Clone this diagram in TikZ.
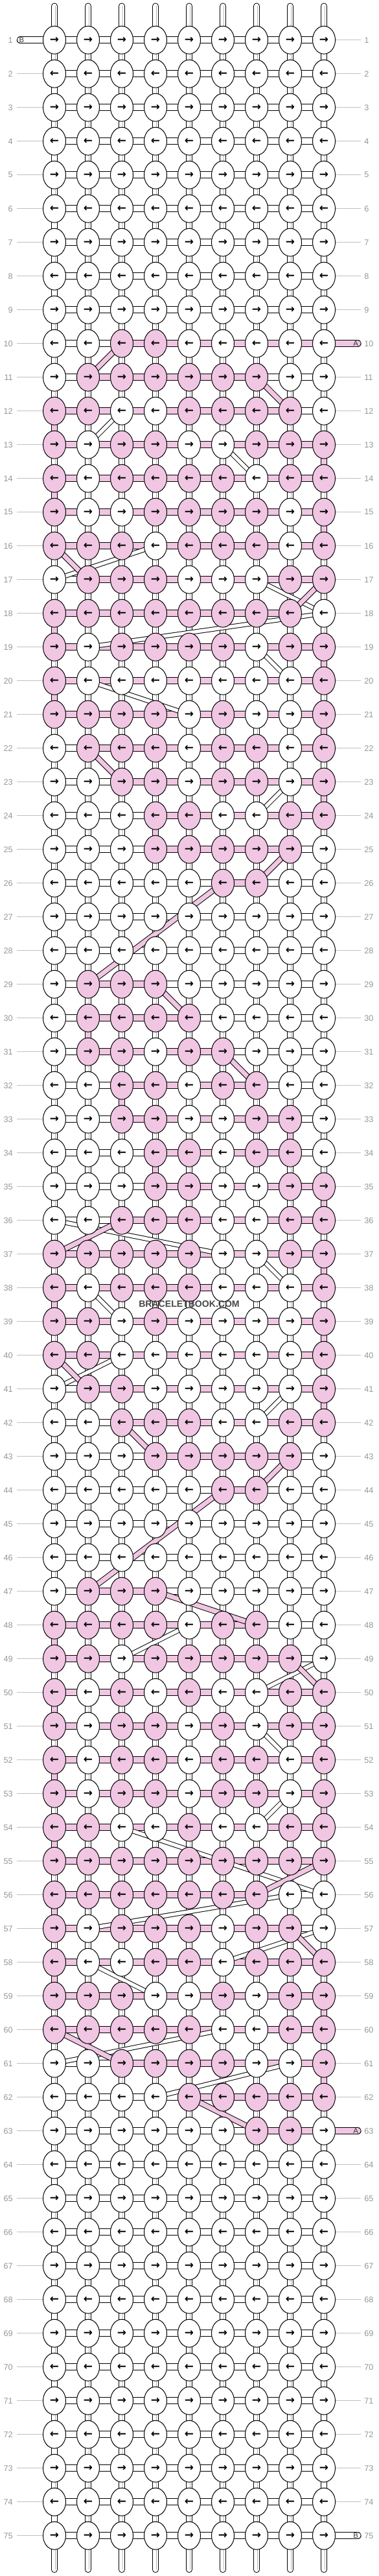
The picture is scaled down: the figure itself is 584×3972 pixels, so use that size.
\documentclass[tikz,border=0pt]{standalone}
\usepackage{fontspec}
\setmainfont{Liberation Sans}
\newfontfamily\arrowfont{DejaVu Sans}
\usetikzlibrary{shapes.geometric}
\pgfdeclarelayer{bg}
\pgfsetlayers{bg,main}
\definecolor{a}{RGB}{240,198,226}
\colorlet{b}{white}
\definecolor{rulegray}{RGB}{192,192,192}
\definecolor{numgray}{RGB}{150,150,150}
\newcommand{\rowarrow}[1]{\ifodd#1 →\else ←\fi}
\tikzset{
  knot/.style={ellipse, draw, fill=b, line width=0.25mm, inner sep=0pt,
    minimum width=8.75mm, minimum height=10.75mm,
    font=\arrowfont\bfseries\fontsize{12}{12}\selectfont},
  weft/.style={draw=black, line width=0.25mm, double=#1, double distance=2.35mm},
  warp/.style={draw=black, line width=0.25mm, double=#1, double distance=2mm},
  warplines/.style={draw=black!28, line width=0.1mm, double=white, double distance=0.55mm},
  swapb/.style={draw=black, line width=0.25mm, double=b, double distance=1.35mm},
  swapa/.style={draw=black, line width=0.25mm, double=a, double distance=1.75mm},
  rownum/.style={text=numgray, inner sep=0.75mm, font=\fontsize{9}{9}\selectfont},
  guide/.style={draw=rulegray, line width=0.25mm},
  endletter/.style={inner sep=0pt, text=black!80, font=\fontsize{8}{8}\selectfont}
}
\begin{document}
\begin{tikzpicture}[x=0.25mm,y=-0.25mm]
  \useasboundingbox (0,0) rectangle (584,3972);

  % plain rows
  \foreach \r in {1,...,9}{
    \foreach \c in {1,...,9}
      \node[knot] (k-\r-\c) at ({84+52*(\c-1)},{61.7+52*(\r-1)}) {\rowarrow{\r}};
    \begin{pgfonlayer}{bg}
      \foreach \c [count=\d from 2] in {1,...,8}
        \draw[weft=b] (k-\r-\c.center) -- (k-\r-\d.center);
    \end{pgfonlayer}
  }
  \foreach \r in {64,...,75}{
    \foreach \c in {1,...,9}
      \node[knot] (k-\r-\c) at ({84+52*(\c-1)},{61.7+52*(\r-1)}) {\rowarrow{\r}};
    \begin{pgfonlayer}{bg}
      \foreach \c [count=\d from 2] in {1,...,8}
        \draw[weft=b] (k-\r-\c.center) -- (k-\r-\d.center);
    \end{pgfonlayer}
  }

  % pattern rows: knot colours / links between them (n = no link)
  \foreach \r/\kn/\hz in {
    10/{b,b,a,a,b,b,b,b,b}/{b,b,a,a,a,a,a,a},
    11/{b,a,a,a,a,a,a,b,b}/{b,a,a,a,a,a,b,b},
    12/{a,a,b,b,a,a,a,a,b}/{a,a,a,a,a,a,a,b},
    13/{a,b,a,a,b,b,a,a,a}/{a,a,a,a,a,a,a,a},
    14/{a,b,a,a,a,a,b,a,a}/{a,a,a,a,a,a,a,a},
    15/{a,b,b,a,a,a,a,b,a}/{a,a,a,a,a,a,a,a},
    16/{a,a,a,b,a,a,a,b,a}/{a,a,a,a,a,a,a,a},
    17/{b,a,a,a,b,b,b,a,a}/{b,a,a,a,a,a,a,a},
    18/{a,a,a,a,a,a,a,a,b}/{a,a,a,a,a,a,a,n},
    19/{a,b,a,a,a,a,b,a,a}/{a,a,a,a,a,a,a,a},
    20/{a,b,b,b,b,b,b,b,a}/{a,a,a,a,a,a,a,a},
    21/{a,a,a,a,b,a,b,b,a}/{a,a,a,a,a,a,a,a},
    22/{b,a,a,a,b,a,a,b,a}/{b,a,a,a,a,a,a,a},
    23/{b,b,a,a,b,a,a,b,a}/{b,b,a,a,a,a,a,a},
    24/{b,b,b,a,a,b,b,a,a}/{b,b,b,a,a,a,a,a},
    25/{b,b,b,a,a,a,a,a,b}/{b,b,b,a,a,a,a,b},
    26/{b,b,b,b,b,a,a,b,b}/{b,b,b,b,b,a,b,b},
    27/{b,b,b,b,b,b,b,b,b}/{b,b,b,b,b,b,b,b},
    28/{b,b,b,b,b,b,b,b,b}/{b,b,b,b,b,b,b,b},
    29/{b,a,a,a,b,b,b,b,b}/{b,a,a,b,b,b,b,b},
    30/{b,a,a,a,a,b,b,b,b}/{b,a,a,a,b,b,b,b},
    31/{b,a,a,b,a,a,b,b,b}/{b,a,a,a,a,b,b,b},
    32/{b,b,a,a,b,a,a,b,b}/{b,b,a,a,a,a,b,b},
    33/{b,b,a,a,b,b,a,a,b}/{b,b,a,a,a,a,a,b},
    34/{b,b,b,a,a,b,a,a,b}/{b,b,b,a,a,a,a,b},
    35/{b,b,b,a,a,b,b,a,a}/{b,b,b,a,a,a,a,a},
    36/{b,b,a,a,a,b,b,a,a}/{b,b,a,a,a,a,a,a},
    37/{a,a,a,a,a,b,b,a,a}/{a,a,a,a,a,a,a,a},
    38/{a,b,a,a,a,b,b,b,a}/{a,a,a,a,a,a,a,a},
    39/{a,a,b,a,b,b,b,b,a}/{a,a,a,a,a,a,a,a},
    40/{a,a,b,b,b,b,b,b,a}/{a,a,a,a,a,a,a,a},
    41/{b,a,a,b,b,b,b,b,a}/{b,a,a,a,a,a,a,a},
    42/{b,b,a,a,a,b,b,a,a}/{b,b,a,a,a,a,a,a},
    43/{b,b,b,a,a,a,a,a,b}/{b,b,b,a,a,a,a,b},
    44/{b,b,b,b,b,a,a,b,b}/{b,b,b,b,b,a,b,b},
    45/{b,b,b,b,b,b,b,b,b}/{b,b,b,b,b,b,b,b},
    46/{b,b,b,b,b,b,b,b,b}/{b,b,b,b,b,b,b,b},
    47/{b,a,a,a,b,b,b,b,b}/{b,a,a,b,b,b,b,b},
    48/{a,a,a,a,b,a,a,b,b}/{a,a,a,a,a,a,b,b},
    49/{a,a,b,a,a,a,a,a,b}/{a,a,a,a,a,a,a,b},
    50/{a,b,a,b,a,b,b,a,a}/{a,a,a,a,a,a,a,a},
    51/{a,b,a,a,b,a,b,a,a}/{a,a,a,a,a,a,a,a},
    52/{a,b,a,a,b,a,a,b,a}/{a,a,a,a,a,a,a,a},
    53/{a,b,a,a,b,a,a,b,a}/{a,a,a,a,a,a,a,a},
    54/{a,a,b,b,a,b,b,a,a}/{a,a,a,a,a,a,a,a},
    55/{a,a,a,a,a,a,a,a,a}/{a,a,a,a,a,a,a,a},
    56/{a,a,a,a,a,a,a,b,b}/{a,a,a,a,a,a,n,b},
    57/{a,b,a,a,a,b,a,a,b}/{a,a,a,a,a,a,a,b},
    58/{a,b,b,a,a,b,a,a,a}/{a,a,a,a,a,a,a,a},
    59/{a,a,a,b,b,a,b,a,a}/{a,a,a,a,a,a,a,a},
    60/{a,a,a,a,a,b,b,a,a}/{a,a,a,a,a,a,a,a},
    61/{b,b,a,a,a,a,b,b,a}/{b,b,a,a,a,a,a,a},
    62/{b,b,b,b,a,a,a,a,a}/{b,b,b,b,a,a,a,a},
    63/{b,b,b,b,b,b,a,a,b}/{b,b,b,b,b,b,a,a}}{
    \foreach \f [count=\c] in \kn
      \node[knot, fill=\f] (k-\r-\c) at ({84+52*(\c-1)},{61.7+52*(\r-1)}) {\rowarrow{\r}};
    \begin{pgfonlayer}{bg}
      \foreach \h [count=\c] in \hz {
        \pgfmathtruncatemacro\d{\c+1}
        \if\h n\else
          \draw[weft=\h] (k-\r-\c.center) -- (k-\r-\d.center);
        \fi
      }
    \end{pgfonlayer}
  }

  \begin{pgfonlayer}{bg}
    % strands down the columns
    \foreach \r in {1,...,74}{
      \pgfmathtruncatemacro\s{\r+1}
      \foreach \c in {1,...,9}{
        \draw[warp=b] (k-\r-\c.center) -- (k-\s-\c.center);
        \draw[warplines] (k-\r-\c.center) -- (k-\s-\c.center);
      }
    }
    \foreach \r/\c in {1/9,2/1,3/9,4/1,5/9,6/1,7/9,8/1,9/9,63/9,64/1,65/9,66/1,
        67/9,68/1,69/9,70/1,71/9,72/1,73/9,74/1}{
      \pgfmathtruncatemacro\s{\r+1}
      \draw[warp=b] (k-\r-\c.center) -- (k-\s-\c.center);
    }
    \foreach \r/\c in {12/1,13/9,14/1,15/9,18/1,19/9,20/1,21/9,23/9,24/4,30/2,32/3,
        33/8,34/4,35/9,37/9,38/1,39/9,41/9,48/1,50/1,51/9,52/1,53/9,54/1,56/1,
        58/1,59/9,61/9}{
      \pgfmathtruncatemacro\s{\r+1}
      \draw[warp=a] (k-\r-\c.center) -- (k-\s-\c.center);
    }
    \foreach \c in {1,...,9}{
      \coordinate (top-\c) at ({84+52*(\c-1)},9.5);
      \coordinate (bot-\c) at ({84+52*(\c-1)},3962);
      \draw[warp=b, line cap=round] (top-\c) -- (k-1-\c.center);
      \draw[warplines] (top-\c) -- (k-1-\c.center);
      \draw[warp=b, line cap=round] (k-75-\c.center) -- (bot-\c);
      \draw[warplines] (k-75-\c.center) -- (bot-\c);
    }

    % row numbers
    \foreach \r in {1,...,75}{
      \node[rownum, anchor=east] (ln-\r) at (23,{61.7+52*(\r-1)}) {\r};
      \node[rownum, anchor=west] (rn-\r) at (559,{61.7+52*(\r-1)}) {\r};
      \draw[guide, shorten <=0.75mm] (ln-\r) -- (k-\r-1);
      \draw[guide, shorten >=0.5mm] (k-\r-9) -- (rn-\r);
    }

    % loose ends
    \coordinate (end-1) at (31.5,61.7);
    \draw[weft=b, line cap=round] (end-1) -- (k-1-1.center);
    \foreach \r/\f in {10/a,63/a,75/b}{
      \coordinate (end-\r) at (552,{61.7+52*(\r-1)});
      \draw[weft=\f, line cap=round] (k-\r-9.center) -- (end-\r);
    }

    % strands that change place
    \foreach \ra/\ca/\rb/\cb in {12/3/13/2,13/6/14/7,16/4/17/1,17/7/18/9,18/9/19/2,
        19/7/20/8,20/2/21/5,23/8/24/7,36/1/37/6,37/7/38/8,38/2/39/3,40/3/41/1,
        41/8/42/7,48/5/49/3,49/9/50/7,51/7/52/8,53/8/54/7,54/3/55/6,55/6/56/9,
        56/8/57/2,57/9/58/6,58/2/59/4,60/6/61/1,61/8/62/4}
      \draw[swapb] (k-\ra-\ca.center) -- (k-\rb-\cb.center);
    \foreach \ra/\ca/\rb/\cb in {10/3/11/2,11/7/12/8,16/1/17/2,17/9/18/8,22/2/23/3,
        25/8/26/7,26/6/29/2,29/4/30/5,31/6/32/7,36/3/37/1,40/1/41/2,42/3/43/4,
        43/8/44/7,44/6/47/2,47/4/48/7,49/8/50/9,55/9/56/7,57/8/58/9,60/1/61/3,
        62/5/63/7}
      \draw[swapa] (k-\ra-\ca.center) -- (k-\rb-\cb.center);
  \end{pgfonlayer}

  \node[endletter] (tag-1) at (33.5,61.7) {B};
  \foreach \r/\t in {10/A,63/A,75/B}
    \node[endletter] (tag-\r) at (549,{61.7+52*(\r-1)}) {\t};

  \node[font=\bfseries\fontsize{10}{10}\selectfont, text=black!72] (site) at (292,2011) {BRACELETBOOK.COM};
\end{tikzpicture}
\end{document}
